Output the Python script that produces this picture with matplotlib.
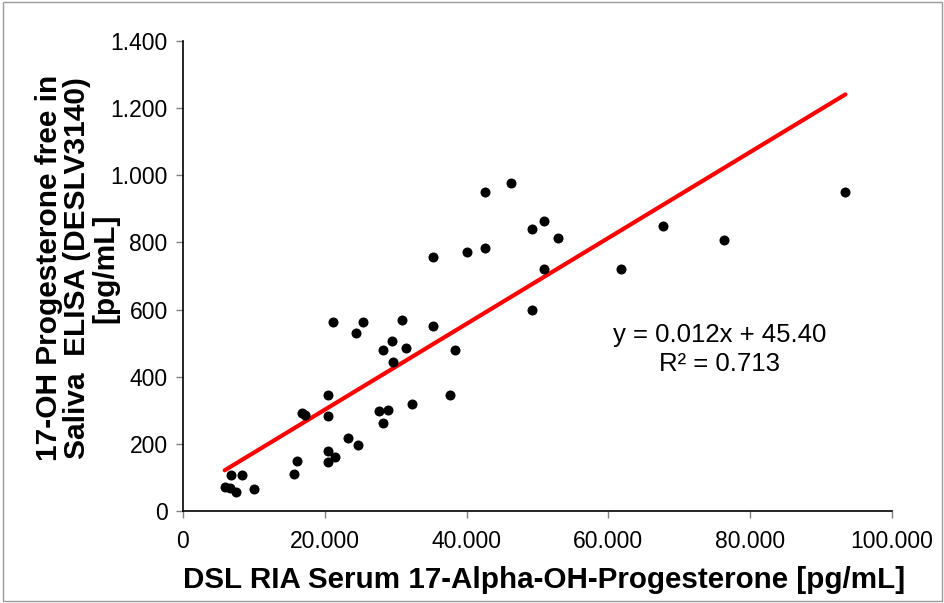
import numpy as np
import matplotlib
matplotlib.use("Agg")
import matplotlib.pyplot as plt
from matplotlib.ticker import FuncFormatter
from matplotlib.patches import Rectangle

plt.rcParams['font.family'] = ['Liberation Sans', 'DejaVu Sans']

serum = [5880, 6590, 7530, 6830, 8320, 9970, 15680, 16100, 16810, 17240,
         20410, 20510, 20480, 21470, 23230, 24710, 27640, 28870, 28240, 20510,
         21160, 25440, 24460, 30920, 35320, 29530, 28170, 31510, 29670, 38320,
         32260, 37620, 42650, 46260, 49220, 50870, 52890, 35320, 40010, 42650,
         50870, 49220, 61780, 67700, 76300, 93430]
saliva = [71, 69, 58, 106, 108, 65, 109, 150, 293, 287,
          284, 179, 145, 160, 216, 196, 298, 302, 261, 345,
          562, 563, 529, 569, 552, 506, 479, 485, 444, 480,
          319, 346, 951, 978, 840, 865, 814, 756, 772, 783,
          722, 598, 722, 849, 806, 949]

fit_slope = 0.01279
fit_intercept = 46.0
eq_text = "y = 0.012x + 45.40"
r2_text = "R\u00b2 = 0.713"

x_ticks = [0, 20000, 40000, 60000, 80000, 100000]
y_ticks = [0, 200, 400, 600, 800, 1000, 1200, 1400]

def thousands(v, pos):
    return f"{int(round(v)):,}".replace(",", ".")

fig = plt.figure(figsize=(9.45, 6.03), dpi=100)
fig.patches.append(Rectangle((0.003, 0.003), 0.994, 0.994, transform=fig.transFigure,
                             fill=False, edgecolor='#9a9a9a', linewidth=1.0))
ax = fig.add_axes([183/945, 1 - 511/603, (892-183)/945, (511-41)/603])

ax.scatter(serum, saliva, s=52, color='black', zorder=3, linewidths=0)
xs = np.array([min(serum), max(serum)])
ax.plot(xs, fit_slope * xs + fit_intercept, color='#ff0000', linewidth=3.0,
        solid_capstyle='round', zorder=2)

ax.set_xlim(0, 100000)
ax.set_ylim(0, 1400)
ax.set_xticks(x_ticks)
ax.set_yticks(y_ticks)
ax.xaxis.set_major_formatter(FuncFormatter(thousands))
ax.yaxis.set_major_formatter(FuncFormatter(thousands))
for s in ['top', 'right']:
    ax.spines[s].set_visible(False)
for s in ['left', 'bottom']:
    ax.spines[s].set_linewidth(1.2)
ax.tick_params(axis='both', direction='out', length=5, width=1, color='#808080',
               labelsize=16.5, pad=6)
ax.tick_params(axis='x', pad=9)

fig.text(544/945, 1 - 580/603, "DSL RIA Serum 17-Alpha-OH-Progesterone [pg/mL]",
         ha='center', va='center', fontsize=21.3, fontweight='bold')
fig.text(77/945, 1 - 268/603,
         "17-OH Progesterone free in\nSaliva  ELISA (DESLV3140)\n[pg/mL]",
         rotation=90, ha='center', va='center', fontsize=21.5, fontweight='bold',
         linespacing=1.02, multialignment='center')

fig.text(720/945, 1 - 335/603, eq_text, ha='center', va='center', fontsize=18.5)
fig.text(720/945, 1 - 364/603, r2_text, ha='center', va='center', fontsize=18.5)

fig.savefig("out.png", dpi=100)
